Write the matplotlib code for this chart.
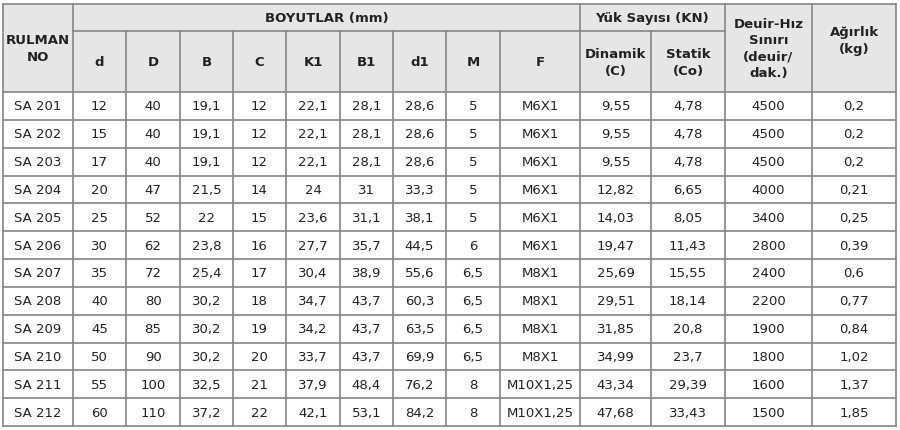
import matplotlib.pyplot as plt
from matplotlib.patches import Rectangle

plt.rcParams['font.family'] = ['DejaVu Sans']

names = ['SA 201', 'SA 202', 'SA 203', 'SA 204', 'SA 205', 'SA 206',
         'SA 207', 'SA 208', 'SA 209', 'SA 210', 'SA 211', 'SA 212']
d = ['12', '15', '17', '20', '25', '30', '35', '40', '45', '50', '55', '60']
D = ['40', '40', '40', '47', '52', '62', '72', '80', '85', '90', '100', '110']
B = ['19,1', '19,1', '19,1', '21,5', '22', '23,8', '25,4', '30,2', '30,2', '30,2', '32,5', '37,2']
C = ['12', '12', '12', '14', '15', '16', '17', '18', '19', '20', '21', '22']
K1 = ['22,1', '22,1', '22,1', '24', '23,6', '27,7', '30,4', '34,7', '34,2', '33,7', '37,9', '42,1']
B1 = ['28,1', '28,1', '28,1', '31', '31,1', '35,7', '38,9', '43,7', '43,7', '43,7', '48,4', '53,1']
d1 = ['28,6', '28,6', '28,6', '33,3', '38,1', '44,5', '55,6', '60,3', '63,5', '69,9', '76,2', '84,2']
M = ['5', '5', '5', '5', '5', '6', '6,5', '6,5', '6,5', '6,5', '8', '8']
F = ['M6X1', 'M6X1', 'M6X1', 'M6X1', 'M6X1', 'M6X1', 'M8X1', 'M8X1', 'M8X1', 'M8X1', 'M10X1,25', 'M10X1,25']
dyn = ['9,55', '9,55', '9,55', '12,82', '14,03', '19,47', '25,69', '29,51', '31,85', '34,99', '43,34', '47,68']
stat = ['4,78', '4,78', '4,78', '6,65', '8,05', '11,43', '15,55', '18,14', '20,8', '23,7', '29,39', '33,43']
speed = ['4500', '4500', '4500', '4000', '3400', '2800', '2400', '2200', '1900', '1800', '1600', '1500']
weight = ['0,2', '0,2', '0,2', '0,21', '0,25', '0,39', '0,6', '0,77', '0,84', '1,02', '1,37', '1,85']

sub_heads = ['d', 'D', 'B', 'C', 'K1', 'B1', 'd1', 'M', 'F', 'Dinamik\n(C)', 'Statik\n(Co)']

xs = [3, 73, 126, 180, 233, 286, 340, 393, 446, 500, 580, 651, 725, 812, 896]
y_top, y_mid, y_head = 5, 32, 93
row_h = (427 - y_head) / 12

fig = plt.figure(figsize=(9, 4.31), dpi=100)
ax = fig.add_axes([0, 0, 1, 1])
ax.set_xlim(0, 900)
ax.set_ylim(431, 0)
ax.axis('off')

ax.add_patch(Rectangle((xs[0], y_top), xs[-1] - xs[0], y_head - y_top,
                       facecolor='#e6e6e6', edgecolor='none'))

lc = '#858585'
lw = 1.2
# horizontal lines
ax.plot([xs[0], xs[-1]], [y_top, y_top], color=lc, lw=lw)
ax.plot([xs[1], xs[12]], [y_mid, y_mid], color=lc, lw=lw)
for i in range(13):
    y = y_head + i * row_h
    ax.plot([xs[0], xs[-1]], [y, y], color=lc, lw=lw)
# vertical lines
for j, x in enumerate(xs):
    y0 = y_top if j in (0, 1, 10, 12, 13, 14) else y_mid
    ax.plot([x, x], [y0, 427], color=lc, lw=lw)

tc = '#222222'
fs = 9.5
hkw = dict(ha='center', va='center', fontsize=fs, fontweight='bold', color=tc)
ax.text((xs[0] + xs[1]) / 2, (y_top + y_head) / 2, 'RULMAN\nNO', linespacing=1.4, **hkw)
ax.text((xs[1] + xs[10]) / 2, (y_top + y_mid) / 2, 'BOYUTLAR (mm)', **hkw)
ax.text((xs[10] + xs[12]) / 2, (y_top + y_mid) / 2, 'Yük Sayısı (KN)', **hkw)
ax.text((xs[12] + xs[13]) / 2, (y_top + y_head) / 2, 'Deuir-Hız\nSınırı\n(deuir/\ndak.)', linespacing=1.3, **hkw)
ax.text((xs[13] + xs[14]) / 2, (y_top + y_head) / 2 - 8, 'Ağırlık\n(kg)', linespacing=1.4, **hkw)
for j, h in enumerate(sub_heads):
    ax.text((xs[j + 1] + xs[j + 2]) / 2, (y_mid + y_head) / 2, h, linespacing=1.4, **hkw)

cols = [names, d, D, B, C, K1, B1, d1, M, F, dyn, stat, speed, weight]
for j, col in enumerate(cols):
    cx = (xs[j] + xs[j + 1]) / 2
    for i, v in enumerate(col):
        ax.text(cx, y_head + (i + 0.5) * row_h, v, ha='center', va='center',
                fontsize=fs, color=tc)

fig.savefig('out.png', dpi=100)
